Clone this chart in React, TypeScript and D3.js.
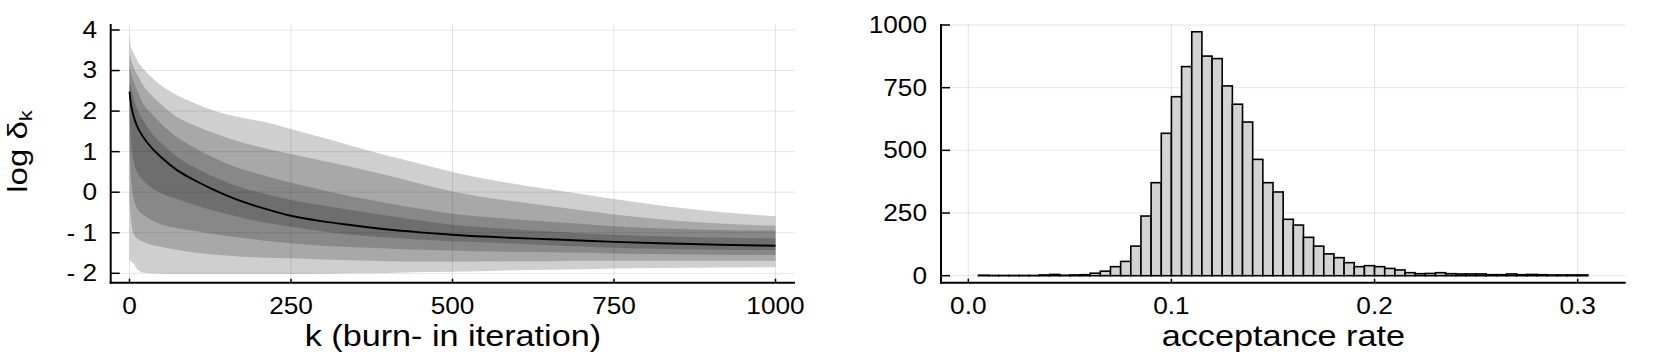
import React from "react";
import * as d3 from "d3";

// ---------- Left panel data: quantile bands of log delta_k ----------
const kVals = [0, 2, 6, 12, 21, 35, 50, 73, 100, 125, 150, 176, 200, 250, 300, 342, 400, 450, 500, 583, 650, 697, 750, 837, 914, 1000];
const top1 = [3.9, 3.6, 3.45, 3.25, 3.05, 2.82, 2.62, 2.4, 2.2, 2.04, 1.92, 1.83, 1.76, 1.56, 1.34, 1.15, 0.9, 0.7, 0.5, 0.24, 0.07, -0.04, -0.17, -0.36, -0.49, -0.59];
const top2 = [3.45, 3.3, 3.1, 2.9, 2.64, 2.38, 2.15, 1.86, 1.65, 1.49, 1.35, 1.22, 1.12, 0.94, 0.77, 0.63, 0.41, 0.21, 0.02, -0.2, -0.34, -0.44, -0.55, -0.69, -0.77, -0.83];
const top3 = [3.1, 2.95, 2.75, 2.5, 2.19, 1.92, 1.67, 1.37, 1.1, 0.89, 0.71, 0.56, 0.45, 0.23, 0.05, -0.1, -0.27, -0.41, -0.53, -0.65, -0.73, -0.78, -0.84, -0.9, -0.93, -0.95];
const top4 = [2.7, 2.6, 2.35, 2.05, 1.78, 1.45, 1.2, 0.88, 0.62, 0.42, 0.25, 0.1, 0.0, -0.19, -0.33, -0.44, -0.58, -0.7, -0.8, -0.9, -0.97, -1.01, -1.05, -1.09, -1.12, -1.14];
const median = [2.48, 2.2, 1.9, 1.62, 1.37, 1.08, 0.85, 0.55, 0.3, 0.1, -0.08, -0.24, -0.36, -0.58, -0.72, -0.81, -0.92, -0.99, -1.05, -1.12, -1.16, -1.19, -1.225, -1.265, -1.295, -1.32];
const bot4 = [1.9, 1.3, 0.79, 0.5, 0.3, 0.1, -0.03, -0.17, -0.31, -0.43, -0.54, -0.64, -0.72, -0.85, -0.97, -1.05, -1.12, -1.17, -1.21, -1.26, -1.31, -1.34, -1.37, -1.4, -1.42, -1.43];
const bot3 = [1.2, 0.4, -0.11, -0.4, -0.55, -0.7, -0.8, -0.88, -0.95, -1.02, -1.08, -1.13, -1.18, -1.26, -1.32, -1.35, -1.39, -1.42, -1.44, -1.47, -1.48, -1.49, -1.51, -1.53, -1.54, -1.55];
const bot2 = [-0.2, -0.6, -1.01, -1.15, -1.22, -1.3, -1.35, -1.42, -1.49, -1.53, -1.56, -1.59, -1.61, -1.63, -1.66, -1.68, -1.7, -1.71, -1.71, -1.7, -1.7, -1.69, -1.69, -1.69, -1.69, -1.69];
const bot1 = [-1.65, -1.7, -1.75, -1.9, -1.98, -2.0, -2.01, -2.02, -2.02, -2.02, -2.02, -2.02, -2.02, -2.02, -2.01, -2.0, -1.99, -1.97, -1.96, -1.93, -1.91, -1.9, -1.88, -1.87, -1.86, -1.85];
const leftXTicks = [0, 250, 500, 750, 1000];
const leftYTicks = [4, 3, 2, 1, 0, -1, -2];
const leftYTickLabels = ["4", "3", "2", "1", "0", "- 1", "- 2"];

// ---------- Right panel data: histogram of acceptance rate ----------
const binStart = 0.005;
const binWidth = 0.005;
const counts = [2, 1, 1, 1, 1, 1, 3, 5, 2, 3, 4, 10, 18, 36, 57, 118, 238, 371, 568, 714, 834, 973, 876, 866, 757, 684, 613, 464, 371, 334, 225, 202, 153, 118, 87, 72, 52, 36, 40, 36, 29, 23, 12, 8, 9, 12, 8, 7, 7, 7, 4, 4, 7, 4, 5, 4, 3, 3, 3, 3];
const rightXTicks = [0, 0.1, 0.2, 0.3];
const rightXTickLabels = ["0.0", "0.1", "0.2", "0.3"];
const rightYTicks = [0, 250, 500, 750, 1000];

const FONT = "'Liberation Sans', Arial, Helvetica, sans-serif";
const SX = 1.14;
const TICK_FS = 23;
const LABEL_FS = 30;
const GRID = "rgba(0,0,0,0.1)";

export default function App() {
  // Left plot geometry
  const L = { x0: 110.7, x1: 795, y0: 24, y1: 282.7 };
  const xL = d3.scaleLinear().domain([0, 1000]).range([129.5, 775.5]);
  const yL = d3.scaleLinear().domain([-2, 4]).range([273.3, 30]);

  const R = { x0: 941, x1: 1625.7, y0: 24, y1: 282.7 };
  const xR = d3.scaleLinear().domain([0, 0.3]).range([968.3, 1577.7]);
  const yR = d3.scaleLinear().domain([0, 1000]).range([275.7, 25]);

  const idx = kVals.map((_, i) => i);
  const area = (lo: number[], hi: number[]) =>
    d3
      .area<number>()
      .x((i) => xL(kVals[i]))
      .y0((i) => yL(lo[i]))
      .y1((i) => yL(hi[i]))
      .curve(d3.curveMonotoneX)(idx) as string;
  const bands = [
    [bot1, top1],
    [bot2, top2],
    [bot3, top3],
    [bot4, top4],
  ];
  const medLine = d3
    .line<number>()
    .x((i) => xL(kVals[i]))
    .y((i) => yL(median[i]))
    .curve(d3.curveMonotoneX)(idx) as string;

  const stretchedText = (
    key: string,
    x: number,
    y: number,
    txt: React.ReactNode,
    fs: number,
    anchor: string,
    baseline: string = "auto"
  ) => (
    <text
      key={key}
      transform={`translate(${x},${y}) scale(${SX},1)`}
      fontSize={fs}
      fontFamily={FONT}
      textAnchor={anchor}
      dominantBaseline={baseline}
      fill="#000"
    >
      {txt}
    </text>
  );

  return (
    <div style={{ position: "absolute", left: 0, top: 0 }}>
      <svg width={1667} height={355} style={{ display: "block", background: "#fff" }}>
        {/* ---------- Left panel ---------- */}
        <g>
          {leftXTicks.map((t) => (
            <line key={"lgx" + t} x1={xL(t)} x2={xL(t)} y1={L.y0} y2={L.y1} stroke={GRID} strokeWidth={1} />
          ))}
          {leftYTicks.map((t) => (
            <line key={"lgy" + t} x1={L.x0} x2={L.x1} y1={yL(t)} y2={yL(t)} stroke={GRID} strokeWidth={1} />
          ))}
          {bands.map(([lo, hi], i) => (
            <path key={"band" + i} d={area(lo, hi)} fill="#000" fillOpacity={0.19} stroke="none" />
          ))}
          <path d={medLine} fill="none" stroke="#000" strokeWidth={1.9} />
          {/* axes */}
          <line x1={L.x0} x2={L.x0} y1={L.y0} y2={L.y1 + 1} stroke="#000" strokeWidth={2} />
          <line x1={L.x0 - 1} x2={L.x1} y1={L.y1} y2={L.y1} stroke="#000" strokeWidth={2} />
          {leftYTicks.map((t) => (
            <line key={"lty" + t} x1={L.x0} x2={L.x0 + 9} y1={yL(t)} y2={yL(t)} stroke="#000" strokeWidth={1.5} />
          ))}
          {leftXTicks.map((t) => (
            <line key={"ltx" + t} x1={xL(t)} x2={xL(t)} y1={L.y1} y2={L.y1 - 4} stroke="#000" strokeWidth={1.5} />
          ))}
          {leftYTicks.map((t, i) => stretchedText("lyl" + t, 97, yL(t), leftYTickLabels[i], TICK_FS, "end", "central"))}
          {leftXTicks.map((t) => stretchedText("lxl" + t, xL(t), 314, String(t), TICK_FS, "middle"))}
          {stretchedText("lxlab", (L.x0 + L.x1) / 2, 346, "k (burn- in iteration)", LABEL_FS, "middle")}
          <text
            transform={`translate(27,151.5) rotate(-90) scale(1.22,1)`}
            fontSize={27}
            fontFamily={FONT}
            textAnchor="middle"
            fill="#000"
          >
            log δ
            <tspan fontSize={18} dy={5}>
              k
            </tspan>
          </text>
        </g>

        {/* ---------- Right panel ---------- */}
        <g>
          {rightXTicks.map((t) => (
            <line key={"rgx" + t} x1={xR(t)} x2={xR(t)} y1={R.y0} y2={R.y1} stroke={GRID} strokeWidth={1} />
          ))}
          {rightYTicks.map((t) => (
            <line key={"rgy" + t} x1={R.x0} x2={R.x1} y1={yR(t)} y2={yR(t)} stroke={GRID} strokeWidth={1} />
          ))}
          {counts.map((c, i) => {
            const a = binStart + i * binWidth;
            const b = a + binWidth;
            return (
              <rect
                key={"bar" + i}
                x={xR(a)}
                y={yR(c)}
                width={xR(b) - xR(a)}
                height={yR(0) - yR(c)}
                fill="#d3d3d3"
                stroke="#000"
                strokeWidth={1.6}
              />
            );
          })}
          <line x1={R.x0} x2={R.x0} y1={R.y0} y2={R.y1 + 1} stroke="#000" strokeWidth={2} />
          <line x1={R.x0 - 1} x2={R.x1} y1={R.y1} y2={R.y1} stroke="#000" strokeWidth={2} />
          {rightYTicks.map((t) => (
            <line key={"rty" + t} x1={R.x0} x2={R.x0 + 9} y1={yR(t)} y2={yR(t)} stroke="#000" strokeWidth={1.5} />
          ))}
          {rightXTicks.map((t) => (
            <line key={"rtx" + t} x1={xR(t)} x2={xR(t)} y1={R.y1} y2={R.y1 - 4} stroke="#000" strokeWidth={1.5} />
          ))}
          {rightYTicks.map((t) => stretchedText("ryl" + t, 927, yR(t), String(t), TICK_FS, "end", "central"))}
          {rightXTicks.map((t, i) => stretchedText("rxl" + t, xR(t), 314, rightXTickLabels[i], TICK_FS, "middle"))}
          {stretchedText("rxlab", (R.x0 + R.x1) / 2, 346, "acceptance rate", LABEL_FS, "middle")}
        </g>
      </svg>
    </div>
  );
}
